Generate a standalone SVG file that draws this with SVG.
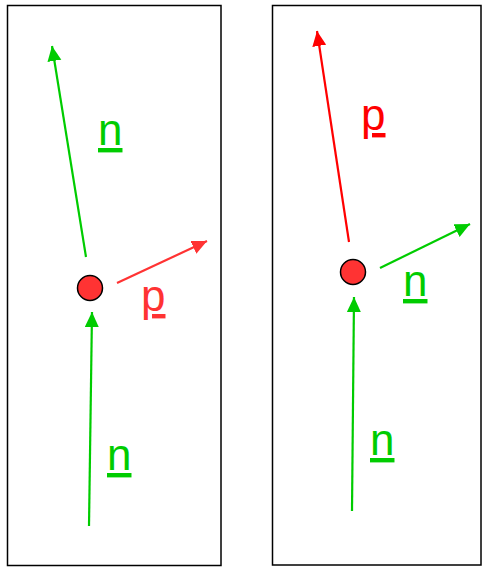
<svg xmlns="http://www.w3.org/2000/svg" width="482" height="567" viewBox="0 0 482 567">
<style>
.box{fill:#fff;stroke:#000;stroke-width:1.5}
.g{stroke:#00CC00;stroke-width:2.2;fill:none}
.r{stroke:#FF3333;stroke-width:2.2;fill:none}
.rr{stroke:#FF0000;stroke-width:2.2;fill:none}
.node{fill:#FF3333;stroke:#000;stroke-width:1.5}
.lbl{font-family:"Liberation Sans",Arial,sans-serif;font-size:44px;text-decoration:underline}
</style>
<defs>
<marker id="ag" markerUnits="userSpaceOnUse" markerWidth="16" markerHeight="16" refX="15" refY="7" orient="auto"><path d="M0,0 L15,7 L0,14 Z" fill="#00CC00"/></marker>
<marker id="ar" markerUnits="userSpaceOnUse" markerWidth="16" markerHeight="16" refX="15" refY="7" orient="auto"><path d="M0,0 L15,7 L0,14 Z" fill="#FF3333"/></marker>
<marker id="arr" markerUnits="userSpaceOnUse" markerWidth="16" markerHeight="16" refX="15" refY="7" orient="auto"><path d="M0,0 L15,7 L0,14 Z" fill="#FF0000"/></marker>
</defs>
<g id="panel-left"><rect class="box" x="7.5" y="5.5" width="213.5" height="560"/></g>
<g id="panel-right"><rect class="box" x="272.5" y="5.5" width="208.5" height="559.5"/></g>
<g id="connectors">
<line class="g" x1="86" y1="257" x2="52" y2="46" marker-end="url(#ag)"/>
<line class="r" x1="117" y1="283" x2="207" y2="241" marker-end="url(#ar)"/>
<line class="g" x1="89" y1="526" x2="92" y2="312" marker-end="url(#ag)"/>
<line class="rr" x1="349" y1="242" x2="317" y2="31" marker-end="url(#arr)"/>
<line class="g" x1="380" y1="268" x2="470" y2="224" marker-end="url(#ag)"/>
<line class="g" x1="352" y1="511" x2="354" y2="297" marker-end="url(#ag)"/>
</g>
<g id="node-left"><circle class="node" cx="90" cy="288" r="12.5"/></g>
<g id="node-right"><circle class="node" cx="353" cy="272" r="12.5"/></g>
<g id="labels">
<text class="lbl" x="98" y="145" fill="#00CC00">n</text>
<text class="lbl" x="141" y="311" fill="#FF3333">p</text>
<text class="lbl" x="107" y="470" fill="#00CC00">n</text>
<text class="lbl" x="361" y="130" fill="#FF0000">p</text>
<text class="lbl" x="403" y="296" fill="#00CC00">n</text>
<text class="lbl" x="370" y="455" fill="#00CC00">n</text>
</g>
</svg>
